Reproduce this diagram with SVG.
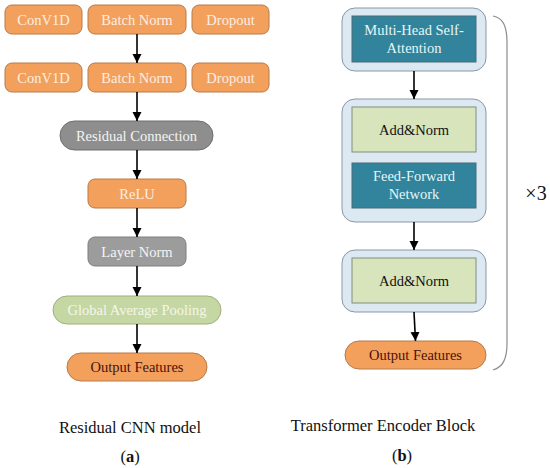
<svg xmlns="http://www.w3.org/2000/svg" width="550" height="468" viewBox="0 0 550 468" font-family="'Liberation Serif', 'DejaVu Serif', serif">
<defs>
<marker id="ah" markerWidth="10" markerHeight="10" refX="9" refY="5" orient="auto" markerUnits="userSpaceOnUse">
<path d="M0,0.5 L9,5 L0,9.5 Z" fill="#000"/>
</marker>
<style>
text{font-family:'Liberation Serif','DejaVu Serif',serif;text-anchor:middle}
.lbl{font-size:14.5px}
.or{fill:#f2a05c;stroke:#b87a48;stroke-width:1}
.orT{fill:#fdeee2}
.gr{fill:#8e8e8e;stroke:#6e6e6e;stroke-width:1}
.gr2{fill:#9c9c9c;stroke:#7e7e7e;stroke-width:1}
.grT{fill:#f4f4f4}
.gn{fill:#c5d7a2;stroke:#9fb07e;stroke-width:1}
.gnT{fill:#f6f6ea}
.outer{fill:#dce8f2;stroke:#8a98a6;stroke-width:1}
.teal{fill:#31849b;stroke:#4a6a76;stroke-width:1}
.tealT{fill:#e6f6f8}
.an{fill:#d8e4bc;stroke:#808e80;stroke-width:1}
.k{fill:#111}
.dk{fill:#4a1010}
.conn line{stroke:#000;stroke-width:1.6;marker-end:url(#ah)}
.cap{font-size:16.5px;fill:#111}
</style>
</defs>
<rect width="550" height="468" fill="#fff"/>

<g id="conv1">
<rect class="or" x="5" y="5" width="77" height="29" rx="7"/>
<text class="lbl orT" x="43.5" y="24.5">ConV1D</text>
</g>
<g id="bn1">
<rect class="or" x="88" y="5" width="98" height="29" rx="7"/>
<text class="lbl orT" x="137" y="24.5">Batch Norm</text>
</g>
<g id="drop1">
<rect class="or" x="192" y="5" width="77" height="29" rx="7"/>
<text class="lbl orT" x="230.5" y="24.5">Dropout</text>
</g>
<g id="conv2">
<rect class="or" x="5" y="63" width="77" height="29" rx="7"/>
<text class="lbl orT" x="43.5" y="82.5">ConV1D</text>
</g>
<g id="bn2">
<rect class="or" x="88" y="63" width="98" height="29" rx="7"/>
<text class="lbl orT" x="137" y="82.5">Batch Norm</text>
</g>
<g id="drop2">
<rect class="or" x="192" y="63" width="77" height="29" rx="7"/>
<text class="lbl orT" x="230.5" y="82.5">Dropout</text>
</g>
<g id="residual">
<rect class="gr" x="60" y="121" width="153" height="29" rx="14.5"/>
<text class="lbl grT" x="136.5" y="140.5">Residual Connection</text>
</g>
<g id="relu">
<rect class="or" x="88" y="179" width="98" height="29" rx="7"/>
<text class="lbl orT" x="137" y="198.5">ReLU</text>
</g>
<g id="layernorm">
<rect class="gr2" x="88" y="237" width="98" height="29" rx="7"/>
<text class="lbl grT" x="137" y="256.5">Layer Norm</text>
</g>
<g id="gap">
<rect class="gn" x="53" y="296" width="168" height="28" rx="14"/>
<text class="lbl gnT" x="137" y="315">Global Average Pooling</text>
</g>
<g id="out1">
<rect class="or" x="67" y="353" width="140" height="28" rx="14"/>
<text class="lbl dk" x="137" y="372">Output Features</text>
</g>

<g id="enc1">
<rect class="outer" x="342" y="8" width="144" height="63" rx="13"/>
<rect class="teal" x="352" y="16" width="124" height="46"/>
<text class="lbl tealT" x="414" y="35">Multi-Head Self-</text>
<text class="lbl tealT" x="414" y="53">Attention</text>
</g>
<g id="enc2">
<rect class="outer" x="342" y="99" width="144" height="123" rx="13"/>
<rect class="an" x="352" y="107" width="124" height="45"/>
<text class="lbl k" x="414" y="134.5">Add&amp;Norm</text>
<rect class="teal" x="352" y="163" width="124" height="45"/>
<text class="lbl tealT" x="414" y="181">Feed-Forward</text>
<text class="lbl tealT" x="414" y="199">Network</text>
</g>
<g id="enc3">
<rect class="outer" x="342" y="250" width="144" height="62" rx="13"/>
<rect class="an" x="352" y="258" width="124" height="45"/>
<text class="lbl k" x="414" y="285.5">Add&amp;Norm</text>
</g>
<g id="out2">
<rect class="or" x="345" y="341" width="141" height="28" rx="14"/>
<text class="lbl dk" x="415.5" y="360">Output Features</text>
</g>

<g id="brace">
<path d="M493,16 C503,18 507,26 507,42 L507,343 C507,359 503,367 493,370" fill="none" stroke="#8c8c8c" stroke-width="1.2"/>
<text x="536" y="200" style="font-size:20px;fill:#111">×3</text>
</g>

<g class="conn" id="connectors">
<line x1="137" y1="34" x2="137" y2="63"/>
<line x1="137" y1="92" x2="137" y2="121"/>
<line x1="137" y1="150" x2="137" y2="179"/>
<line x1="137" y1="208" x2="137" y2="237"/>
<line x1="137" y1="266" x2="137" y2="296"/>
<line x1="137" y1="324" x2="137" y2="353"/>
<line x1="414" y1="71" x2="414" y2="99"/>
<line x1="414" y1="222" x2="414" y2="250"/>
<line x1="414" y1="312" x2="415.5" y2="341"/>
</g>

<g id="captions">
<text class="cap" x="130" y="433">Residual CNN model</text>
<text class="cap" x="130" y="462">(<tspan font-weight="bold">a</tspan>)</text>
<text class="cap" x="383" y="431">Transformer Encoder Block</text>
<text class="cap" x="402" y="461">(<tspan font-weight="bold">b</tspan>)</text>
</g>
</svg>
